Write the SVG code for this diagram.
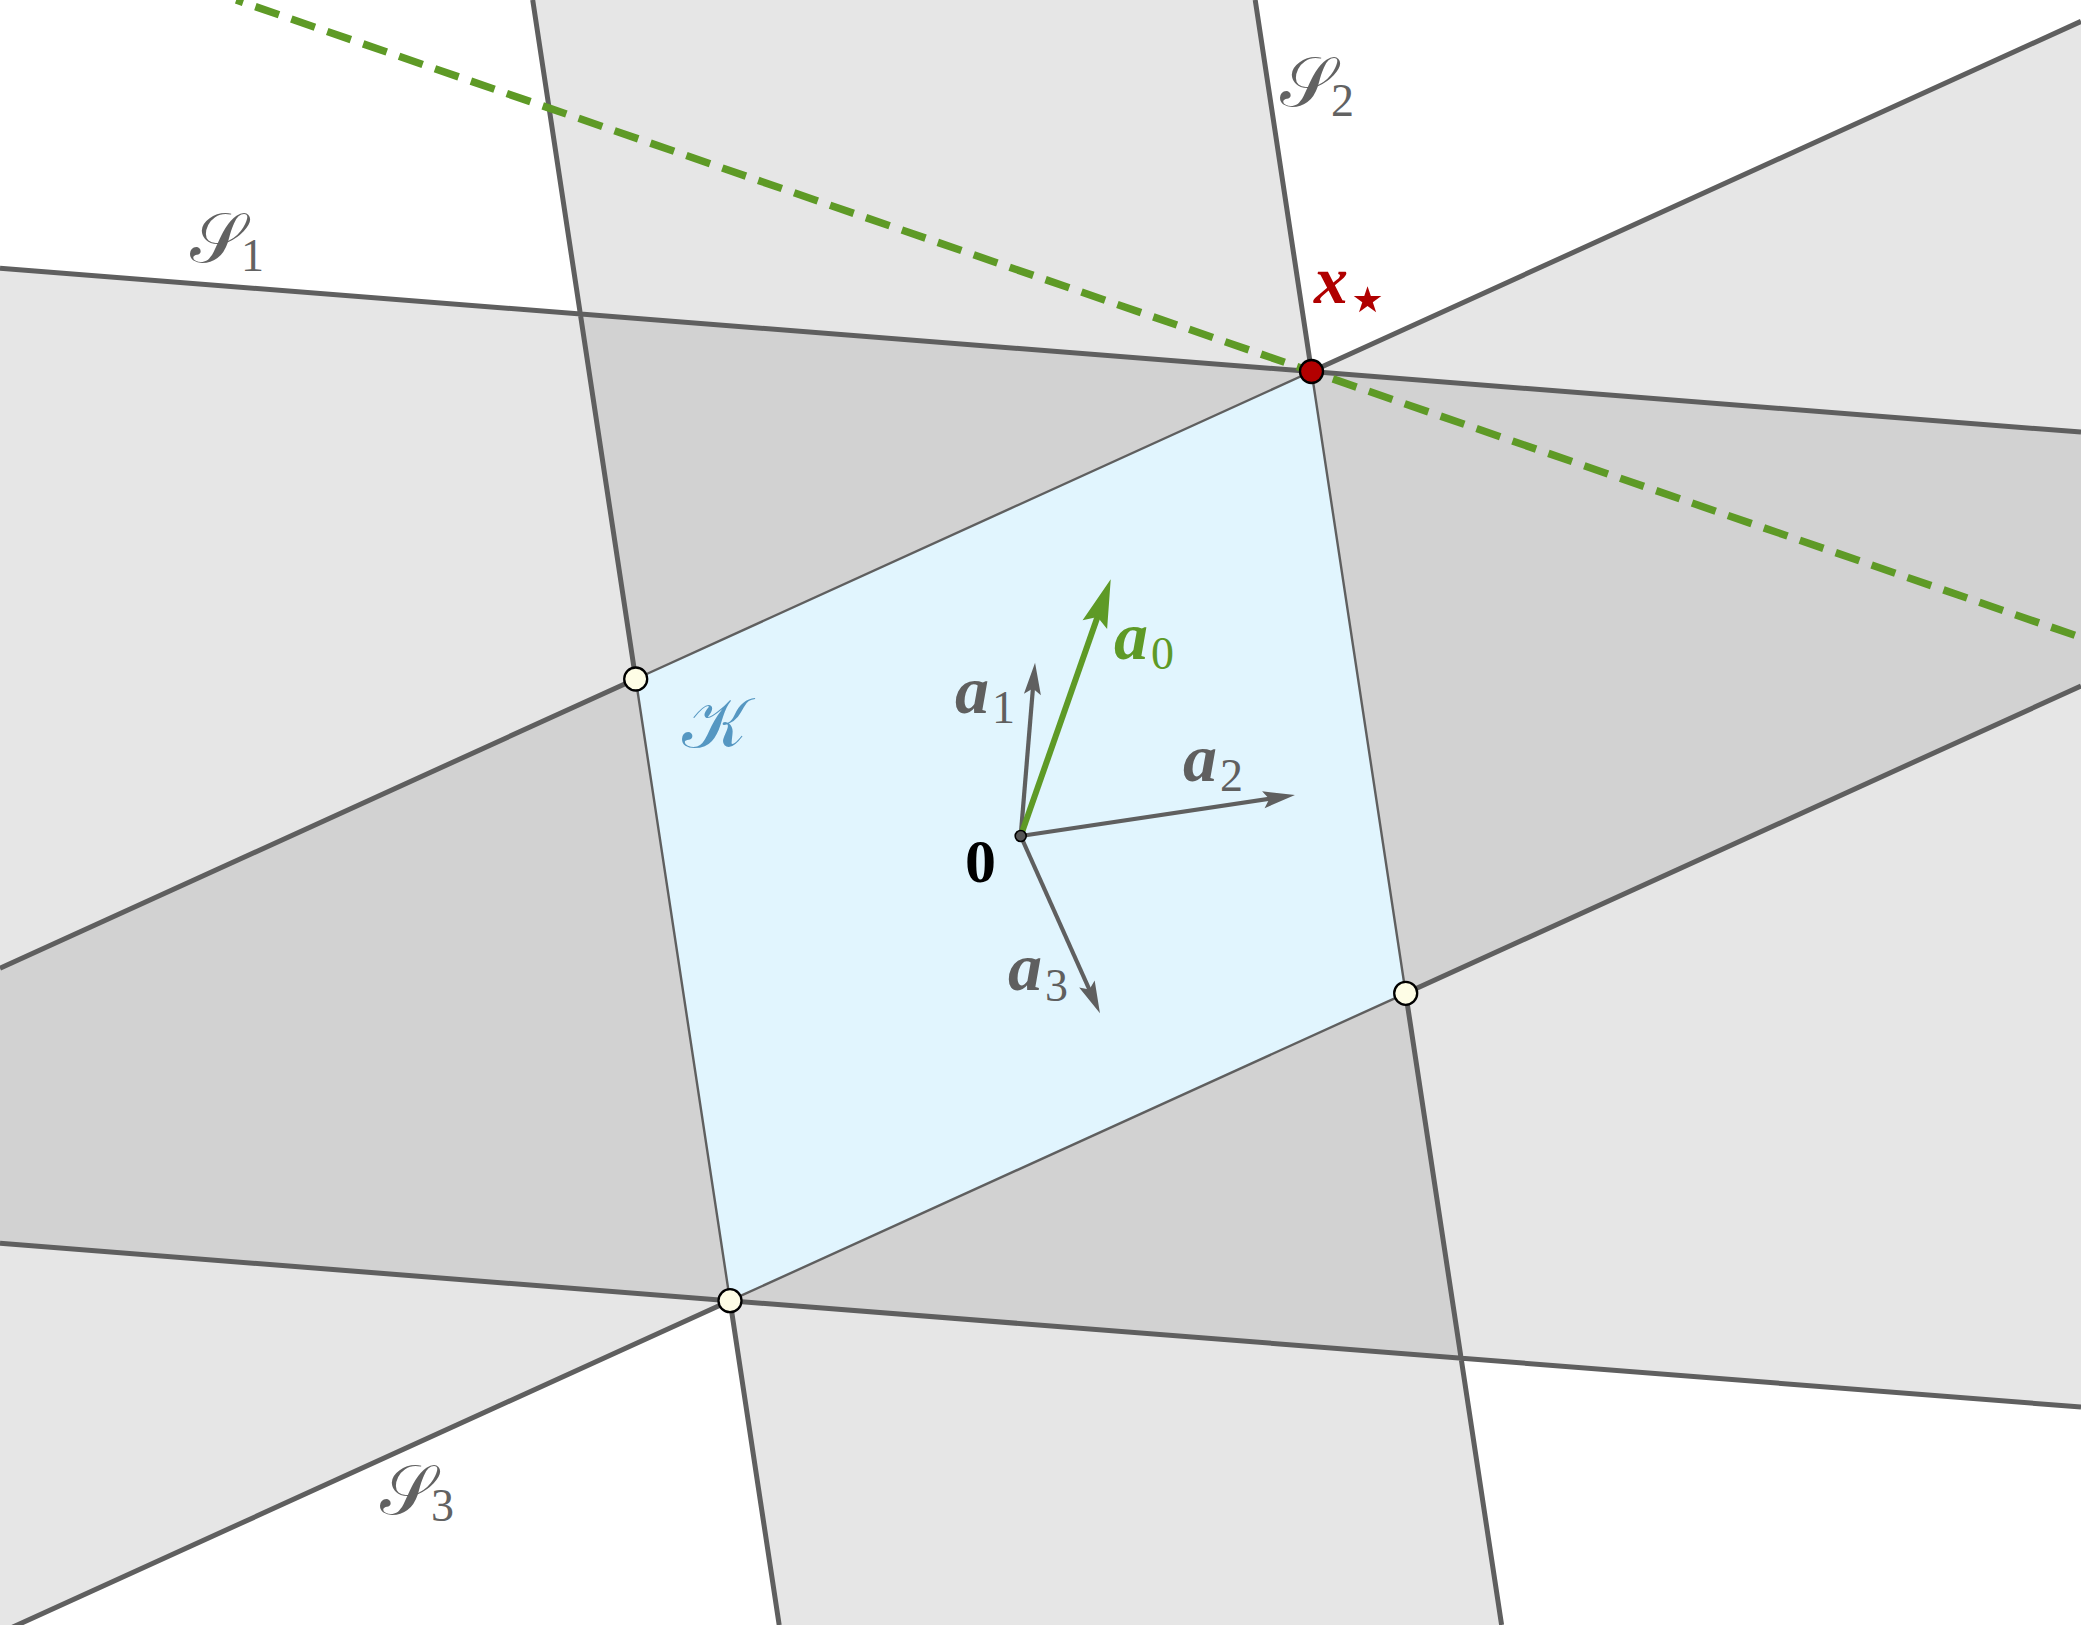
<svg xmlns="http://www.w3.org/2000/svg" width="2081" height="1625" viewBox="0 0 2081 1625">
<style>
.strip{fill:#e6e6e6;stroke:none}
.dark{fill:#d2d2d2;stroke:none}
.bound{fill:none;stroke:#5f5f5f;stroke-width:5;stroke-linecap:butt}
.kedge{fill:#e1f5fe;stroke:#5f5f5f;stroke-width:2.4;stroke-linejoin:round}
.vec{stroke:#5f5f5f;stroke-width:4.2;fill:none}
.vec0{stroke:#5e9a26;stroke-width:6;fill:none}
.vert{fill:#fefde6;stroke:#000;stroke-width:2.3}
.lbl{font-family:"Liberation Serif","DejaVu Serif",serif}
.cal{fill:#626262;font-size:70px}
.sub{font-style:normal;font-weight:normal;font-size:46px}
.star{font-style:normal;font-weight:normal;font-size:72px}
.bv{font-weight:bold;font-style:italic;font-size:68px}
</style>
<defs>
<clipPath id="cS2"><polygon points="517.5,-100 1240,-100 1516.8,1725 794.4,1725"/></clipPath>
<clipPath id="cS3"><polygon points="-100,1013.8 2200,-32.8 2200,631.8 -100,1678.4"/></clipPath>
<marker id="ahG" markerUnits="userSpaceOnUse" orient="auto" refX="0" refY="0" markerWidth="60" markerHeight="30" overflow="visible"><path d="M20,0 L-12,-8.5 L-6,0 L-12,8.5 Z" fill="#5f5f5f"/></marker>
<marker id="ahV" markerUnits="userSpaceOnUse" orient="auto" refX="0" refY="0" markerWidth="80" markerHeight="40" overflow="visible"><path d="M30,0 L-18,-13 L-10,0 L-18,13 Z" fill="#5e9a26"/></marker>
</defs>
<rect x="0" y="0" width="2081" height="1625" fill="#ffffff"/>
<g id="strips">
<polygon id="S1" class="strip" points="-100,260.4 2200,441.4 2200,1416.4 -100,1235.4"/>
<polygon id="S2" class="strip" points="517.5,-100 1240,-100 1516.8,1725 794.4,1725"/>
<polygon id="S3" class="strip" points="-100,1013.8 2200,-32.8 2200,631.8 -100,1678.4"/>
<polygon class="dark" clip-path="url(#cS2)" points="-100,260.4 2200,441.4 2200,1416.4 -100,1235.4"/>
<polygon class="dark" clip-path="url(#cS3)" points="-100,260.4 2200,441.4 2200,1416.4 -100,1235.4"/>
</g>
<g id="K"><polygon class="kedge" points="1311.5,371.5 1405.7,993.3 730,1300.7 635.7,679"/></g>
<g id="boundaries">
<path class="bound" d="M0,268.3 L2081,432.1 M0,1243.3 L2081,1407 M532.7,0 L635.7,679 M730,1300.7 L779.2,1625 M1255.2,0 L1311.5,371.5 M1405.7,993.3 L1501.6,1625 M0,968.3 L635.7,679 M1311.5,371.5 L2081,21.4 M0,1632.9 L730,1300.7 M1405.7,993.3 L2081,686"/>
</g>
<g id="connectors">
<line id="halfspace" x1="236.2" y1="0" x2="2081" y2="637.4" stroke="#5e9a26" stroke-width="7.5" stroke-dasharray="25 13" stroke-dashoffset="17.7"/>
<line id="a1" class="vec" x1="1020.7" y1="836" x2="1033.4" y2="682.6" marker-end="url(#ahG)"/>
<line id="a2" class="vec" x1="1020.7" y1="836" x2="1275.2" y2="798" marker-end="url(#ahG)"/>
<line id="a3" class="vec" x1="1020.7" y1="836" x2="1091.8" y2="995" marker-end="url(#ahG)"/>
<line id="a0" class="vec0" x1="1020.7" y1="836" x2="1100.8" y2="607.6" marker-end="url(#ahV)"/>
</g>
<g id="points">
<circle id="p-left" class="vert" cx="635.7" cy="679" r="11.5"/>
<circle id="p-bottom" class="vert" cx="730" cy="1300.7" r="11.5"/>
<circle id="p-right" class="vert" cx="1405.7" cy="993.3" r="11.5"/>
<circle id="p-xstar" cx="1311.5" cy="371.5" r="11.5" fill="#b30000" stroke="#000" stroke-width="2.3"/>
<circle id="p-origin" cx="1020.7" cy="836" r="5.5" fill="#555555" stroke="#000" stroke-width="1.6"/>
</g>
<g id="labels" class="lbl">
<text id="lS1" class="cal" x="190" y="262">𝒮<tspan class="sub" dx="-3" dy="9">1</tspan></text>
<text id="lS2" class="cal" x="1280" y="106">𝒮<tspan class="sub" dx="-3" dy="10">2</tspan></text>
<text id="lS3" class="cal" x="380" y="1514">𝒮<tspan class="sub" dx="-3" dy="7">3</tspan></text>
<text id="lK" class="cal" x="682" y="747" style="fill:#5597c2">𝒦</text>
<text id="lx" class="bv" x="1314" y="303" fill="#b00000">x<tspan class="star" x="1345" y="323">⋆</tspan></text>
<text id="la0" class="bv" x="1114" y="659" fill="#5e9a26">a<tspan class="sub" dx="3" dy="10">0</tspan></text>
<text id="la1" class="bv" x="955" y="713" fill="#5f5f5f">a<tspan class="sub" dx="3" dy="10">1</tspan></text>
<text id="la2" class="bv" x="1183" y="781" fill="#5f5f5f">a<tspan class="sub" dx="3" dy="10">2</tspan></text>
<text id="la3" class="bv" x="1008" y="990" fill="#5f5f5f">a<tspan class="sub" dx="3" dy="11">3</tspan></text>
<text id="l0" x="965" y="882" font-family="Liberation Serif, serif" font-weight="bold" font-size="62" fill="#000">0</text>
</g>
</svg>
